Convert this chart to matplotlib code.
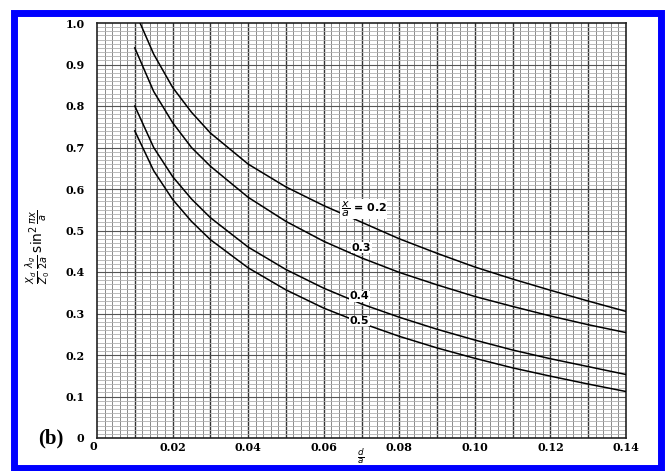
import matplotlib.pyplot as plt
import numpy as np
from matplotlib.patches import Rectangle

# values (d/a -> normalised reactance)
d_over_a = [0.01, 0.015, 0.02, 0.025, 0.03, 0.04, 0.05, 0.06, 0.07,
            0.08, 0.09, 0.10, 0.11, 0.12, 0.13, 0.14]
curve_02_x = [0.0114] + d_over_a[1:]
curve_02 = [1.00, 0.925, 0.845, 0.785, 0.735, 0.66, 0.605, 0.56, 0.52,
            0.48, 0.445, 0.412, 0.383, 0.356, 0.33, 0.305]
curve_03 = [0.94, 0.835, 0.76, 0.70, 0.655, 0.58, 0.522, 0.474, 0.434,
            0.399, 0.369, 0.341, 0.317, 0.294, 0.273, 0.254]
curve_04 = [0.80, 0.70, 0.63, 0.576, 0.531, 0.46, 0.406, 0.361, 0.323,
            0.291, 0.262, 0.236, 0.212, 0.191, 0.172, 0.153]
curve_05 = [0.74, 0.644, 0.575, 0.522, 0.478, 0.41, 0.357, 0.313, 0.277,
            0.245, 0.217, 0.192, 0.169, 0.149, 0.13, 0.112]

curve_labels = [r"$\dfrac{x}{a}$ = 0.2", "0.3", "0.4", "0.5"]
label_pos = [(0.0705, 0.552), (0.0700, 0.458), (0.0695, 0.342), (0.0695, 0.282)]

x_ticks = [0.02, 0.04, 0.06, 0.08, 0.10, 0.12, 0.14]
x_tick_labels = ["0.02", "0.04", "0.06", "0.08", "0.10", "0.12", "0.14"]
y_ticks = [0.1, 0.2, 0.3, 0.4, 0.5, 0.6, 0.7, 0.8, 0.9, 1.0]
y_tick_labels = ["0.1", "0.2", "0.3", "0.4", "0.5", "0.6", "0.7", "0.8", "0.9", "1.0"]


def main():
    fig = plt.figure(figsize=(6.68, 4.71), dpi=100)
    fig.patches.append(Rectangle((13.5 / 668, 3.5 / 471), 647 / 668, 455 / 471,
                                 transform=fig.transFigure, fill=False,
                                 edgecolor="#0000ff", linewidth=5.0))
    ax = fig.add_axes([97 / 668, 33 / 471, 529 / 668, 415 / 471])
    ax.set_xlim(0, 0.14)
    ax.set_ylim(0, 1.0)

    # graph paper grid
    for xv in np.arange(0.002, 0.14, 0.002):
        heavy = abs(xv / 0.01 - round(xv / 0.01)) < 1e-6
        ax.axvline(xv, color="#333333" if heavy else "#8a8a8a",
                   lw=1.0 if heavy else 0.7, zorder=1)
    for yv in np.arange(0.01, 1.0, 0.01):
        heavy = abs(yv / 0.1 - round(yv / 0.1)) < 1e-6
        ax.axhline(yv, color="#555555" if heavy else "#b0b0b0",
                   lw=0.8 if heavy else 0.6, zorder=1)

    for xs, ys in [(curve_02_x, curve_02), (d_over_a, curve_03),
                   (d_over_a, curve_04), (d_over_a, curve_05)]:
        ax.plot(xs, ys, color="black", lw=1.1, zorder=3)

    for text, (lx, ly) in zip(curve_labels, label_pos):
        ax.text(lx, ly, text, fontsize=8, fontweight="bold", family="DejaVu Sans",
                ha="center", va="center", zorder=4,
                bbox=dict(facecolor="white", edgecolor="none", pad=0.3))

    for side in ["left", "bottom", "right", "top"]:
        ax.spines[side].set_linewidth(1.2)
        ax.spines[side].set_color("#222222")

    ax.set_xticks(x_ticks)
    ax.set_xticklabels(x_tick_labels)
    ax.set_yticks(y_ticks)
    ax.set_yticklabels(y_tick_labels)
    ax.tick_params(axis="x", length=0, labelsize=8, pad=3)
    ax.tick_params(axis="y", length=0, labelsize=8, pad=9)
    for lab in ax.get_xticklabels() + ax.get_yticklabels():
        lab.set_fontweight("bold")
        lab.set_family("DejaVu Serif")

    # the two zeros at the origin
    fig.text(80 / 668, (471 - 439) / 471, "0", fontsize=8, fontweight="bold",
             family="DejaVu Serif", ha="center", va="center")
    fig.text(93 / 668, (471 - 446) / 471, "0", fontsize=8, fontweight="bold",
             family="DejaVu Serif", ha="center", va="center")

    fig.text(361 / 668, (471 - 456) / 471, r"$\frac{d}{a}$", fontsize=9,
             ha="center", va="center")
    fig.text(38 / 668, (471 - 247) / 471,
             r"$\frac{X_d}{Z_0}\,\frac{\lambda_g}{2a}\,\sin^2\frac{\pi x}{a}$",
             rotation=90, fontsize=10, ha="center", va="center")

    fig.text(38 / 668, (471 - 438) / 471, "(b)", fontsize=15, fontweight="bold",
             family="Liberation Serif", ha="left", va="center")

    fig.savefig("out.png", dpi=100, facecolor="white")
    plt.close(fig)


if __name__ == "__main__":
    main()
